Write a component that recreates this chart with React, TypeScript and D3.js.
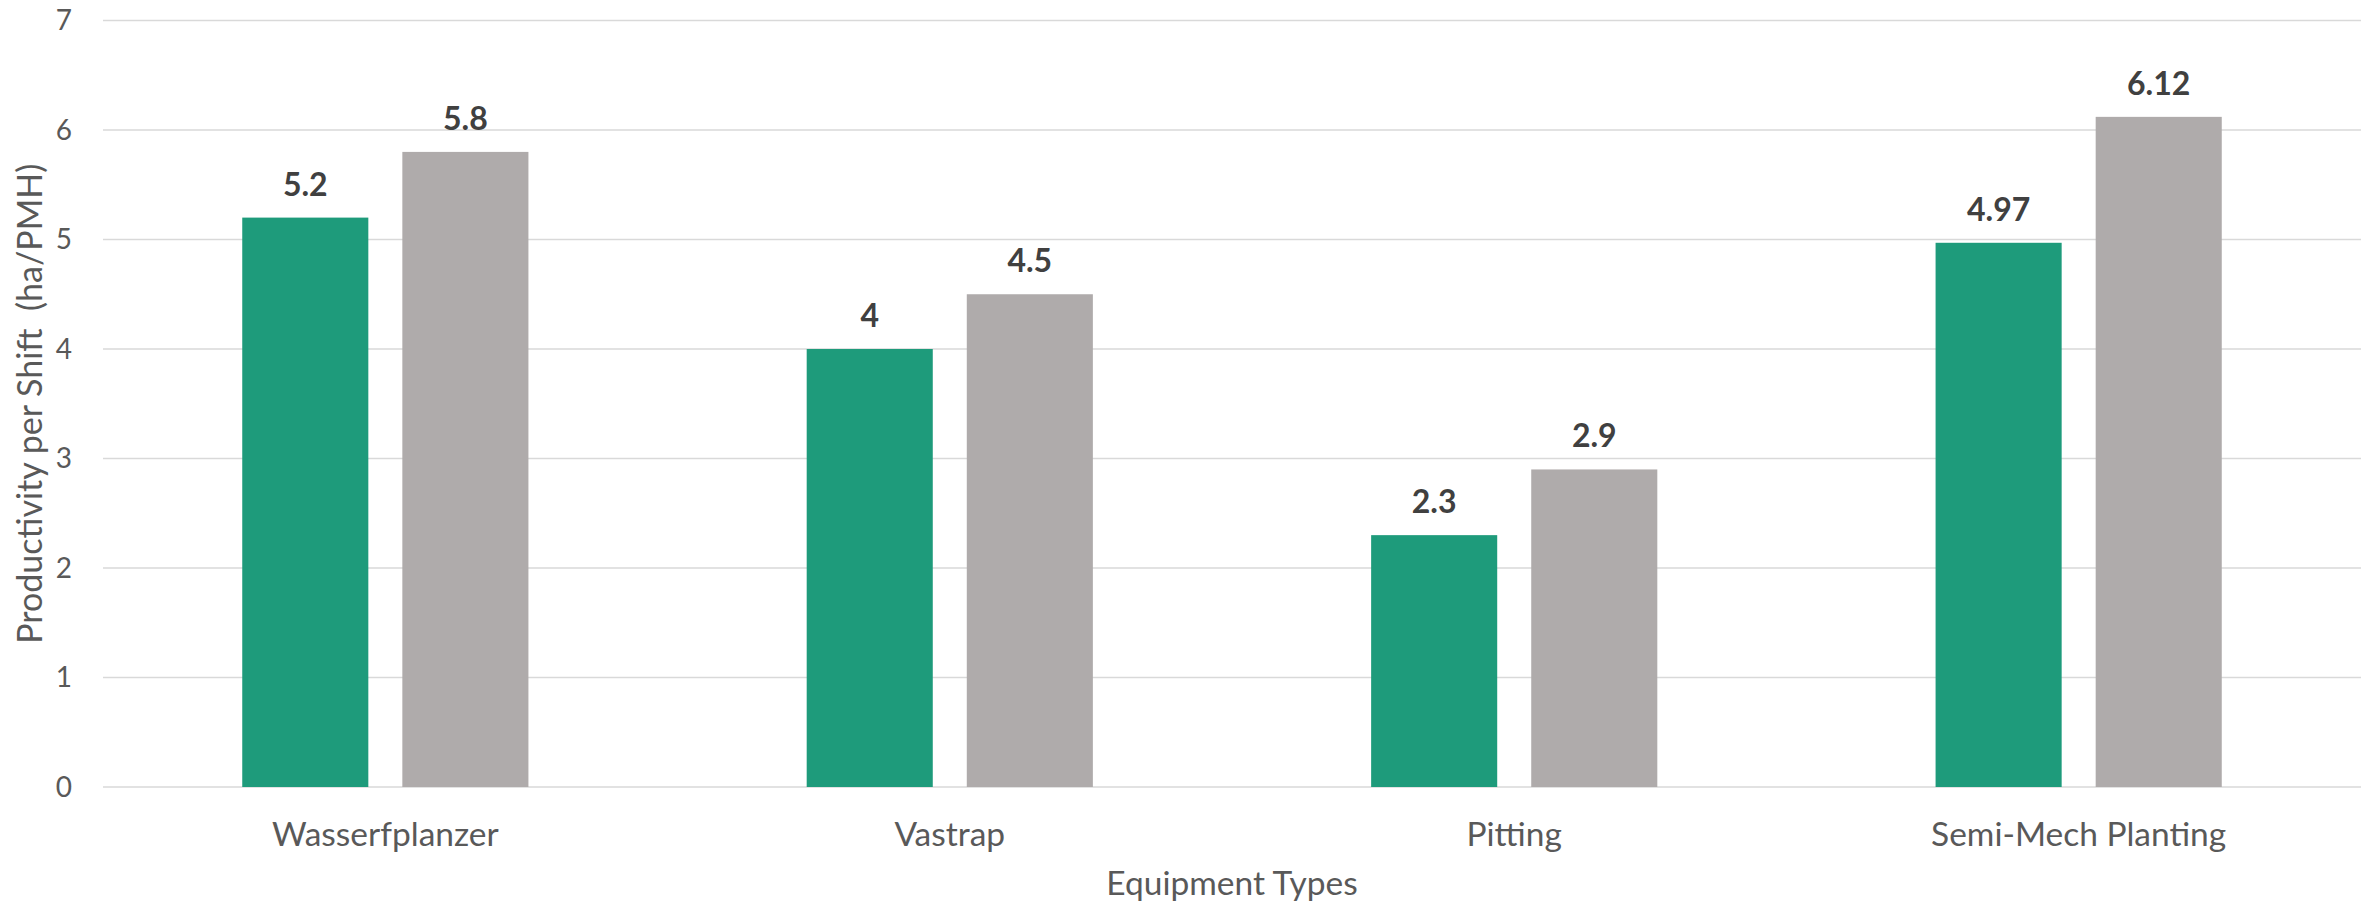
import React, { useEffect, useRef } from 'react';
import * as d3 from 'd3';

const categories = ['Wasserfplanzer', 'Vastrap', 'Pitting', 'Semi-Mech Planting'];
const seriesNames = ['Series A', 'Series B'];
const seriesA = [5.2, 4, 2.3, 4.97];
const seriesB = [5.8, 4.5, 2.9, 6.12];
const seriesColors = ['#1E9B7B', '#AFABAB'];
const yTicks = [0, 1, 2, 3, 4, 5, 6, 7];

const width = 2371;
const height = 911;
const FONT = 'Lato, "Open Sans", sans-serif';

const App: React.FC = () => {
  const svgRef = useRef<SVGSVGElement>(null);

  useEffect(() => {
    if (!svgRef.current) return;
    const svg = d3.select(svgRef.current);
    svg.selectAll('*').remove();

    const left = 103;
    const right = 2361;
    const top = 20.5;
    const bottom = 787;

    const x = d3.scaleBand<string>()
      .domain(categories)
      .range([left, right])
      .paddingInner(0.493)
      .paddingOuter(0.2467);

    const xInner = d3.scaleBand<string>()
      .domain(seriesNames)
      .range([0, x.bandwidth()])
      .paddingInner(0.2125);

    const y = d3.scaleLinear().domain([0, 7]).range([bottom, top]);

    // gridlines
    svg.append('g')
      .selectAll('line')
      .data(yTicks)
      .join('line')
      .attr('x1', left)
      .attr('x2', right)
      .attr('y1', d => y(d))
      .attr('y2', d => y(d))
      .attr('stroke', '#D9D9D9')
      .attr('stroke-width', 1.5);

    // y tick labels
    svg.append('g')
      .selectAll('text')
      .data(yTicks)
      .join('text')
      .attr('x', 72)
      .attr('y', d => y(d))
      .attr('dy', '0.35em')
      .attr('text-anchor', 'end')
      .style('font-family', FONT)
      .style('font-size', '28px')
      .style('fill', '#595959')
      .text(d => d);

    const rows = categories.map((c, i) => ({
      category: c,
      values: [seriesA[i], seriesB[i]],
    }));

    const groups = svg.append('g')
      .selectAll('g')
      .data(rows)
      .join('g')
      .attr('transform', d => `translate(${x(d.category)},0)`);

    groups.selectAll('rect')
      .data(d => d.values.map((v, j) => ({ name: seriesNames[j], value: v, j })))
      .join('rect')
      .attr('x', d => xInner(d.name)!)
      .attr('width', xInner.bandwidth())
      .attr('y', d => y(d.value))
      .attr('height', d => y(0) - y(d.value))
      .attr('fill', d => seriesColors[d.j]);

    // value labels
    groups.selectAll('text.val')
      .data(d => d.values.map((v, j) => ({ name: seriesNames[j], value: v })))
      .join('text')
      .attr('class', 'val')
      .attr('x', d => xInner(d.name)! + xInner.bandwidth() / 2)
      .attr('y', d => y(d.value) - 22)
      .attr('text-anchor', 'middle')
      .style('font-family', FONT)
      .style('font-size', '32px')
      .style('font-weight', 'bold')
      .style('fill', '#404040')
      .text(d => String(d.value));

    // category labels
    svg.append('g')
      .selectAll('text')
      .data(categories)
      .join('text')
      .attr('x', d => x(d)! + x.bandwidth() / 2)
      .attr('y', 846)
      .attr('text-anchor', 'middle')
      .style('font-family', FONT)
      .style('font-size', '33.5px')
      .style('fill', '#595959')
      .text(d => d);

    // axis titles
    svg.append('text')
      .attr('x', (left + right) / 2)
      .attr('y', 895)
      .attr('text-anchor', 'middle')
      .style('font-family', FONT)
      .style('font-size', '33.5px')
      .style('fill', '#595959')
      .text('Equipment Types');

    svg.append('text')
      .attr('transform', `translate(42,${(top + bottom) / 2}) rotate(-90)`)
      .attr('text-anchor', 'middle')
      .style('font-family', FONT)
      .style('font-size', '34px')
      .style('fill', '#595959')
      .style('white-space', 'pre')
      .text('Productivity per Shift  (ha/PMH)');
  }, []);

  return (
    <div style={{ position: 'absolute', left: 0, top: 0 }}>
      <svg ref={svgRef} width={width} height={height} style={{ display: 'block', background: '#fff' }} />
    </div>
  );
};

export default App;
